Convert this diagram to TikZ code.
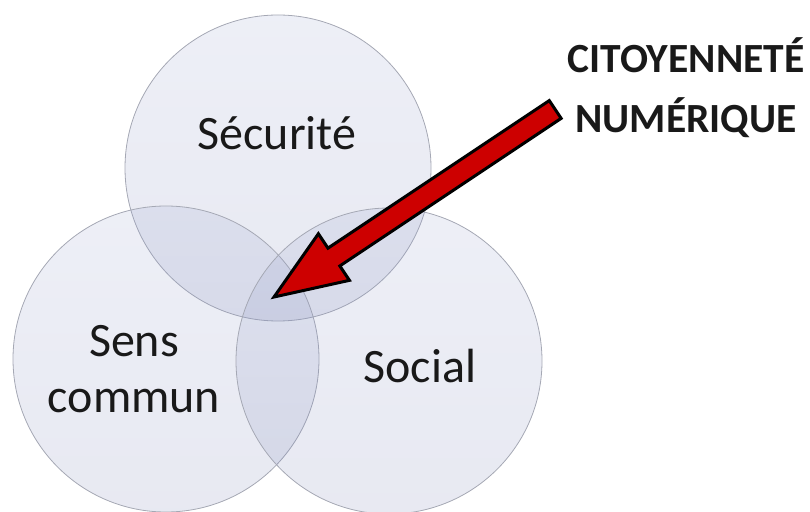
\documentclass[tikz,border=0pt]{standalone}
\usepackage{fontspec}
\setmainfont{Carlito}
\definecolor{venntop}{RGB}{150,160,205}
\definecolor{vennbot}{RGB}{115,125,175}
\definecolor{vennline}{RGB}{165,168,180}
\definecolor{arrowred}{RGB}{205,0,0}
\definecolor{txt}{RGB}{25,25,25}
\begin{document}
\begin{tikzpicture}[x=1pt,y=1pt,
  venn/.style={circle, minimum size=306pt, inner sep=0pt, draw=vennline, line width=0.8pt,
    draw opacity=1, top color=venntop, bottom color=vennbot, fill opacity=0.17},
  lbl/.style={font=\fontsize{48}{56}\selectfont, text=txt, align=center},
  captext/.style={font=\bfseries\fontsize{41.5}{60}\selectfont, text=txt, align=center},
  redarrow/.style={fill=arrowred, draw=black, line width=3pt, line join=miter}]
\useasboundingbox (0,0) rectangle (810,511);
\node[venn] (sec) at (278,343) {};
\node[venn] (sens) at (166,152) {};
\node[venn] (soc) at (389,150) {};
\node[lbl, anchor=base] (tsec) at (277,361) {Sécurité};
\node[lbl, anchor=base] (tsens1) at (134,154) {Sens};
\node[lbl, anchor=base] (tsens2) at (134,98) {commun};
\node[lbl, anchor=base] (tsoc) at (420,128) {Social};
\node[captext, anchor=base] (t1) at (686,438) {CITOYENNETÉ};
\node[captext, anchor=base] (t2) at (686,378) {NUMÉRIQUE};
\begin{scope}[shift={(274,214)}, rotate=33.7]
  \draw[redarrow] (0,0) coordinate (tip) -- (72,28) -- (72,10.7) -- (338,10.7)
    coordinate (tail) -- (338,-10.7) -- (72,-10.7) -- (72,-28) -- cycle;
\end{scope}
\end{tikzpicture}
\end{document}
